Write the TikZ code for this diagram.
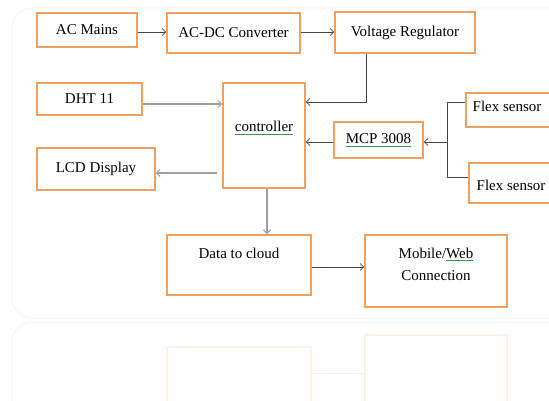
\documentclass[tikz,border=0pt]{standalone}
\usepackage{fontspec}
\setmainfont{Liberation Serif}
\usepackage{tikz}
\usetikzlibrary{arrows.meta,positioning,calc}
\definecolor{boxor}{RGB}{238,160,96}
\definecolor{lnk}{RGB}{70,70,70}
\definecolor{spell}{RGB}{60,150,80}
\newcommand\gul[1]{\setbox0\hbox{#1}\rlap{\textcolor{spell}{\rule[-2.5pt]{\wd0}{.6pt}}}\box0}

\begin{document}
\begin{tikzpicture}[x=1pt,y=-1pt,font=\fontsize{15}{18}\selectfont,>={Straight Barb[length=3.5pt,width=7pt]},
 b/.style={draw=boxor,line width=1.6pt,fill=white,inner sep=0pt},
 ln/.style={draw=lnk,line width=.8pt},
 lg/.style={->,draw=gray!75,line width=1.1pt}]
\useasboundingbox (0,0) rectangle (549,401);
\clip (0,0) rectangle (549,401);
% faint page frames and reflection
\draw[gray!8,line width=1pt,rounded corners=20pt] (12,8) rectangle (575,318);
\draw[gray!8,line width=1pt,rounded corners=20pt] (12,322) rectangle (575,430);
\draw[boxor!15,line width=1.2pt] (167,347) rectangle (311,420);
\draw[boxor!15,line width=1.2pt] (365,335) rectangle (507,420);
\draw[gray!10,line width=.8pt] (311,373) -- (365,373);
% blocks
\node[b,minimum width=100pt,minimum height=34pt] (ac) at (87,30) {AC Mains};
\node[b,minimum width=133pt,minimum height=40pt] (acdc) at (233.5,33) {AC-DC Converter};
\node[b,minimum width=140pt,minimum height=41pt] (vr) at (405,32.5) {Voltage Regulator};
\node[b,minimum width=105pt,minimum height=32pt] (dht) at (89.5,99) {DHT 11};
\node[b,minimum width=82pt,minimum height=105pt,label={[yshift=7.5pt]center:\gul{controller}}] (ctrl) at (264,135.5) {};
\node[b,minimum width=89pt,minimum height=36pt] (mcp) at (378.5,140) {\gul{MCP 3008}};
\node[b,minimum width=124pt,minimum height=34pt,label={[anchor=west,xshift=4pt,yshift=4pt]west:Flex sensor}] (fs1) at (528,110) {};
\node[b,minimum width=124pt,minimum height=40pt,label={[anchor=west,xshift=5pt,yshift=-2pt]west:Flex sensor}] (fs2) at (531,183) {};
\node[b,minimum width=118pt,minimum height=42pt] (lcd) at (96,169) {LCD Display};
\node[b,minimum width=144pt,minimum height=60pt,label={[yshift=12pt]center:Data to cloud}] (cloud) at (239,265) {};
\node[b,minimum width=142pt,minimum height=72pt,label={[align=center,yshift=7pt,font=\fontsize{15}{22}\selectfont]center:Mobile/\gul{Web}\\Connection}] (mob) at (436,271) {};
\coordinate (jn) at (447,142);
% links
\draw[ln,->] (ac.east|-0,32) -- (acdc.west|-0,32);
\draw[ln,->] (acdc.east|-0,32) -- (vr.west|-0,32);
\draw[ln,->] ([xshift=-39pt]vr.south) |- ([yshift=33.5pt]ctrl.east);
\draw[lg] ([yshift=-5pt]dht.east) -- ([yshift=-5pt]dht.east-|ctrl.west);
\draw[ln,->] (jn -| mcp.west) -- (jn -| ctrl.east);
\draw[ln] ([yshift=8pt]fs1.west) -| ([yshift=6pt]fs2.west-|jn) -- ([yshift=6pt]fs2.west);
\draw[ln,->] (jn) -- (jn -| mcp.east);
\draw[lg,shorten <=5pt] ([yshift=-4pt]lcd.east-|ctrl.west) -- ([yshift=-4pt]lcd.east);
\draw[lg] ([xshift=3pt]ctrl.south) -- ([xshift=3pt]ctrl.south|-cloud.north);
\draw[ln,->] ([yshift=-2pt]cloud.east) -- ([yshift=-2pt]cloud.east-|mob.west);
\end{tikzpicture}
\end{document}
